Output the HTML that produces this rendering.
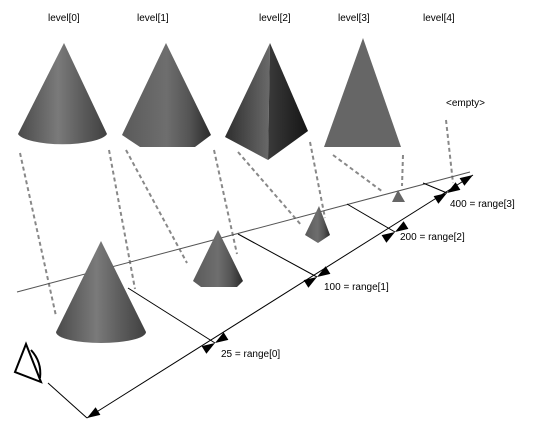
<!DOCTYPE html>
<html><head><meta charset="utf-8"><style>
html,body{margin:0;padding:0;background:#fff;}
svg{display:block;}
text{font-family:"Liberation Sans",sans-serif;font-size:10px;fill:#000;letter-spacing:0px;}
</style></head><body>
<svg id="s" width="546" height="428" viewBox="0 0 546 428">
<defs>
<linearGradient id="cone" x1="0" x2="1" y1="0" y2="0">
<stop offset="0" stop-color="#4a4a4a"/><stop offset="0.45" stop-color="#7a7a7a"/><stop offset="0.7" stop-color="#5e5e5e"/><stop offset="1" stop-color="#404040"/></linearGradient>
<linearGradient id="hex" x1="0" x2="1" y1="0" y2="0">
<stop offset="0" stop-color="#5a5a5a"/><stop offset="0.5" stop-color="#6e6e6e"/><stop offset="0.75" stop-color="#555"/><stop offset="1" stop-color="#2a2a2a"/></linearGradient>
<linearGradient id="pl" x1="0" x2="1"><stop offset="0" stop-color="#2e2e2e"/><stop offset="1" stop-color="#6a6a6a"/></linearGradient>
<linearGradient id="pr" x1="0" x2="1"><stop offset="0" stop-color="#3a3a3a"/><stop offset="1" stop-color="#151515"/></linearGradient>
</defs>

<g>
<text x="48" y="21">level[0]</text>
<text x="137" y="21">level[1]</text>
<text x="259" y="21">level[2]</text>
<text x="338" y="21">level[3]</text>
<text x="423" y="21">level[4]</text>
<text x="446" y="106">&lt;empty&gt;</text>
</g>

<g>
<path d="M64,43 L18,134 A45,12 0 0 0 107,134 Z" fill="url(#cone)"/>
<path d="M166,43 L122,135 L140,147 L195,147 L211,135 Z" fill="url(#hex)"/>
<path d="M270,43 L225,137 L268,160 Z" fill="url(#pl)"/>
<path d="M270,43 L268,160 L308,131 Z" fill="url(#pr)"/>
<path d="M363,38 L324,147 L401,147 Z" fill="#666"/>
</g>

<g stroke="#888" stroke-width="2" stroke-dasharray="4,3" fill="none">
<line x1="20" y1="153" x2="56" y2="316"/>
<line x1="109" y1="150" x2="135" y2="289"/>
<line x1="126" y1="150" x2="187" y2="263"/>
<line x1="214" y1="150" x2="237" y2="254"/>
<line x1="238" y1="152" x2="302" y2="226"/>
<line x1="310" y1="142" x2="325" y2="218"/>
<line x1="333" y1="155" x2="383" y2="192"/>
<line x1="403" y1="155" x2="402" y2="186"/>
<line x1="446" y1="120" x2="453" y2="183"/>
</g>

<line x1="17" y1="292" x2="470" y2="172" stroke="#555" stroke-width="1"/>

<g>
<path d="M101,241 L56,332 A45,11 0 0 0 146,332 Z" fill="url(#cone)"/>
<path d="M218,230 L193,281 L201,287 L237,287 L243,281 Z" fill="url(#hex)"/>
<path d="M319,206 L305,235 L318,243 L330,235 Z" fill="url(#hex)"/>
<path d="M398,190 L392,202 L405,202 Z" fill="#666"/>
</g>

<g stroke="#000" stroke-width="1">
<line x1="128" y1="288" x2="215" y2="343"/>
<line x1="238" y1="234" x2="317" y2="277"/>
<line x1="347" y1="204" x2="395" y2="232"/>
<line x1="423" y1="183" x2="447" y2="193"/>
<line x1="48" y1="383" x2="87" y2="418"/>
</g>
<line x1="87" y1="418" x2="473" y2="175" stroke="#000" stroke-width="1"/>
<g id="arrows"></g>

<g id="rlabels"></g>

<g stroke="#000" stroke-width="2" fill="none">
<path d="M26,344 L15,372 L41,382 Z"/>
<path d="M31,350 Q42,362 40,378"/>
</g>
</svg>
<script>
const ranges = [25, 100, 200, 400];
const levels = [0, 1, 2, 3];
const A = [87,418], B = [473,175];
const ticksAt = [[215,343],[317,277],[395,232],[447,193]];
const labelPos = [[221,357],[324,290],[400,240],[450,207]];
const ns = "http://www.w3.org/2000/svg";
const ag = document.getElementById('arrows');
const dx = B[0]-A[0], dy = B[1]-A[1], L = Math.hypot(dx,dy), ux = dx/L, uy = dy/L;
function arrow(p, dir){
  const x=p[0], y=p[1], vx=ux*dir, vy=uy*dir;
  const bx=x-vx*13, by=y-vy*13, nx=-vy*4.5, ny=vx*4.5;
  const pg=document.createElementNS(ns,'polygon');
  pg.setAttribute('points',`${x},${y} ${bx+nx},${by+ny} ${bx-nx},${by-ny}`);
  pg.setAttribute('fill','#000');
  
  
  ag.appendChild(pg);
}
arrow(A,-1);
ticksAt.forEach(p=>{arrow(p,1);arrow(p,-1);});
arrow(B,1);
const rg=document.getElementById('rlabels');
ranges.forEach((r,i)=>{
  const t=document.createElementNS(ns,'text');
  t.setAttribute('x',labelPos[i][0]);t.setAttribute('y',labelPos[i][1]);
  t.textContent=r+' = range['+levels[i]+']';
  
  
  rg.appendChild(t);
});
</script>
</body></html>
